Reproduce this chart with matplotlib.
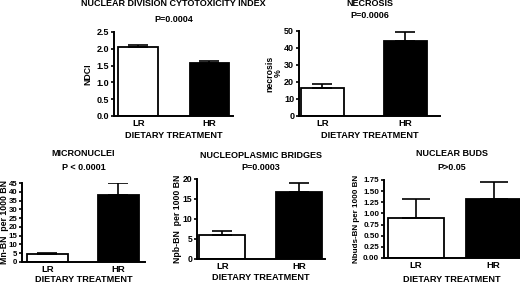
import matplotlib
matplotlib.use("Agg")
import matplotlib.pyplot as plt

plt.rcParams['font.family'] = ['Liberation Sans', 'DejaVu Sans']
plt.rcParams['font.weight'] = 'bold'

groups = ['LR', 'HR']

ndci = [2.05, 1.57]
ndci_err = [0.05, 0.07]
necrosis = [16.5, 44.0]
necrosis_err = [2.3, 5.5]
mn = [4.5, 38.0]
mn_err = [0.5, 7.0]
npb = [6.0, 16.8]
npb_err = [1.0, 2.2]
nbuds = [0.9, 1.33]
nbuds_err = [0.43, 0.37]

titles = ['NUCLEAR DIVISION CYTOTOXICITY INDEX', 'NECROSIS', 'MICRONUCLEI',
          'NUCLEOPLASMIC BRIDGES', 'NUCLEAR BUDS']
pvalues = ['P=0.0004', 'P=0.0006', 'P < 0.0001', 'P=0.0003', 'P>0.05']
ylabels = ['NDCI', 'necrosis\n%', 'Mn-BN  per 1000 BN', 'Npb-BN  per 1000 BN',
           'Nbuds-BN per 1000 BN']
yticks = [[0, 0.5, 1.0, 1.5, 2.0, 2.5],
          [0, 10, 20, 30, 40, 50],
          list(range(0, 50, 5)),
          [0, 5, 10, 15, 20],
          [0, 0.25, 0.5, 0.75, 1.0, 1.25, 1.5, 1.75]]
ytickfmt = ['{:.1f}', '{:.0f}', '{:.0f}', '{:.0f}', '{:.2f}']

values = [ndci, necrosis, mn, npb, nbuds]
errors = [ndci_err, necrosis_err, mn_err, npb_err, nbuds_err]

W, H = 520, 285
fig = plt.figure(figsize=(W / 100, H / 100), dpi=100)

# pixel boxes (left, top, right, bottom) of each axes
boxes = [(114, 32, 233, 116), (299, 31, 440, 116), (22, 183, 145, 262),
         (197, 179, 325, 259), (384, 180, 520, 258)]
xlims = [(-0.34, 1.33), (-0.28, 1.42), (-0.36, 1.38), (-0.33, 1.34), (-0.41, 1.34)]
widths = [0.56, 0.52, 0.58, 0.6, 0.72]
title_px = [4, 4, 153, 155, 154]
p_px = [20, 16, 168, 168, 168]
ylabel_px = [88, 274, 4.5, 177, 357]
ylabel_size = [6.3, 6.3, 6.3, 6.3, 5.8]
xlabel_px = [136, 136, 280, 277, 279]
tick_size = [6.5, 6.5, 5.7, 6.2, 5.8]

for i in range(5):
    l, t, r, b = boxes[i]
    w, h = r - l, b - t
    ax = fig.add_axes([l / W, 1 - b / H, w / W, h / H])
    ax.bar([0, 1], values[i], width=widths[i], color=['white', 'black'],
           edgecolor='black', linewidth=1.3)
    ax.errorbar([0, 1], values[i], yerr=[[0, 0], errors[i]], fmt='none',
                ecolor='black', elinewidth=1.2, capsize=7 if i != 4 else 10,
                capthick=1.2)
    ax.set_xlim(*xlims[i])
    ax.set_ylim(yticks[i][0], yticks[i][-1])
    ax.set_yticks(yticks[i])
    ax.set_yticklabels([ytickfmt[i].format(v) for v in yticks[i]],
                       fontweight='bold')
    ax.set_xticks([0, 1])
    ax.set_xticklabels(groups, fontweight='bold')
    ax.tick_params(axis='x', length=0, pad=2.5, labelsize=6.8)
    ax.tick_params(axis='y', length=2.5, width=1.2, pad=1.0,
                   labelsize=tick_size[i])
    for s in ['top', 'right']:
        ax.spines[s].set_visible(False)
    for s in ['left', 'bottom']:
        ax.spines[s].set_linewidth(1.4)

    def fy(py):
        return (b - py) / h

    ax.text(0.5, fy(xlabel_px[i]), 'DIETARY TREATMENT', transform=ax.transAxes,
            ha='center', va='center', fontsize=6.6, fontweight='bold')
    ax.text((ylabel_px[i] - l) / w, 0.5, ylabels[i], transform=ax.transAxes,
            rotation=90, ha='center', va='center', fontsize=ylabel_size[i],
            fontweight='bold', linespacing=0.9)
    ax.text(0.5, fy(title_px[i]), titles[i], transform=ax.transAxes,
            ha='center', va='center', fontsize=6.5, fontweight='bold')
    ax.text(0.5, fy(p_px[i]), pvalues[i], transform=ax.transAxes,
            ha='center', va='center', fontsize=6.5, fontweight='bold')

fig.savefig('out.png', dpi=100)
